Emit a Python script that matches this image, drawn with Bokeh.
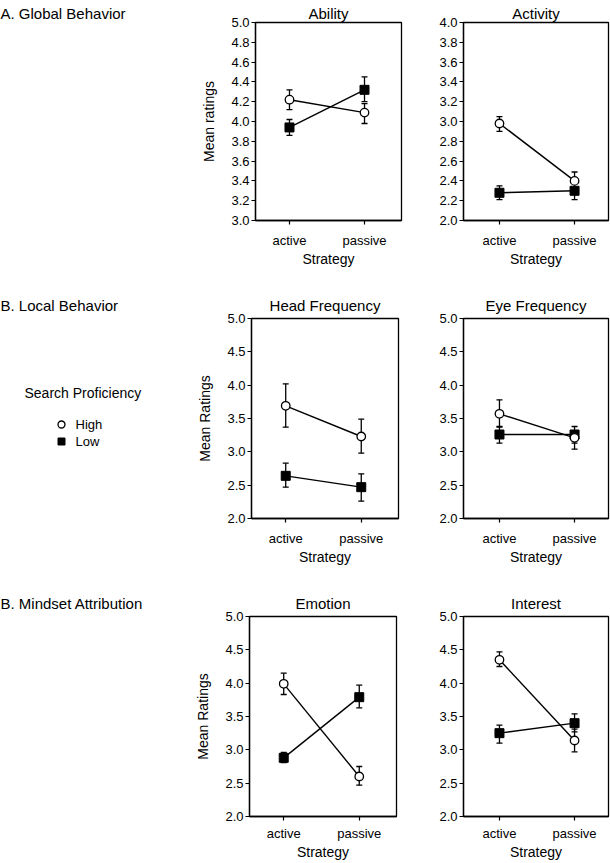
from bokeh.plotting import figure
from bokeh.layouts import column, row
from bokeh.models import (Range1d, FixedTicker, PrintfTickFormatter, Whisker,
                          ColumnDataSource, TeeHead)
from bokeh.embed import file_html
from bokeh.resources import INLINE
from bokeh.core.properties import value

FONT = "Liberation Sans"

# ---------------- data ----------------
strategy = ["active", "passive"]
strategy_x = [1, 2]

ability_high = [4.22, 4.09]
ability_high_lo = [4.12, 3.98]
ability_high_hi = [4.32, 4.18]
ability_low = [3.94, 4.32]
ability_low_lo = [3.86, 4.20]
ability_low_hi = [4.02, 4.45]

activity_high = [2.98, 2.40]
activity_high_lo = [2.90, 2.31]
activity_high_hi = [3.05, 2.49]
activity_low = [2.28, 2.30]
activity_low_lo = [2.21, 2.21]
activity_low_hi = [2.35, 2.38]

head_high = [3.69, 3.23]
head_high_lo = [3.37, 2.98]
head_high_hi = [4.02, 3.49]
head_low = [2.64, 2.47]
head_low_lo = [2.47, 2.26]
head_low_hi = [2.83, 2.67]

eye_high = [3.57, 3.21]
eye_high_lo = [3.37, 3.04]
eye_high_hi = [3.78, 3.31]
eye_low = [3.26, 3.26]
eye_low_lo = [3.13, 3.13]
eye_low_hi = [3.38, 3.38]

emotion_high = [3.99, 2.60]
emotion_high_lo = [3.83, 2.47]
emotion_high_hi = [4.15, 2.75]
emotion_low = [2.88, 3.79]
emotion_low_lo = [2.81, 3.63]
emotion_low_hi = [2.96, 3.97]

interest_high = [4.35, 3.14]
interest_high_lo = [4.25, 2.97]
interest_high_hi = [4.47, 3.31]
interest_low = [3.25, 3.40]
interest_low_lo = [3.10, 3.27]
interest_low_hi = [3.37, 3.54]

ticks_ability = [3.0, 3.2, 3.4, 3.6, 3.8, 4.0, 4.2, 4.4, 4.6, 4.8, 5.0]
ticks_activity = [2.0, 2.2, 2.4, 2.6, 2.8, 3.0, 3.2, 3.4, 3.6, 3.8, 4.0]
ticks_half = [2.0, 2.5, 3.0, 3.5, 4.0, 4.5, 5.0]

section_labels = ["A.  Global Behavior", "B.  Local Behavior", "B.  Mindset Attribution"]
legend_title = "Search Proficiency"
legend_labels = ["High", "Low"]

# ---------------- layout constants (page has no margin) ----------------
ROW_H = [280, 300, 283]
TOP_B = [22, 38, 36]
BOT_B = [60, 62, 47]
TITLE_STANDOFF = [2, 9, 9]
X_LABEL_STANDOFF = [8, 8, 5]
LEFT_W = 190
P1_W = 240
P1_BL = [65, 61, 59]
P1_FW = [146, 147, 147]
P2_W, P2_BL, P2_FW = 180, 33, 145
P1_XR = (0.547, 2.493)
P2_XR = (0.521, 2.452)
TITLE_SIZE = "15px"


def style_title(p, text, align, standoff):
    p.title.text = text
    p.title.align = align
    p.title.text_font = FONT
    p.title.text_font_size = TITLE_SIZE
    p.title.text_font_style = "normal"
    p.title.text_color = "black"
    p.title.standoff = standoff


def panel(i, title, hi, hi_lo, hi_hi, lo, lo_lo, lo_hi, ticks, ylabel,
          width, bl, br, xr):
    p = figure(width=width, height=ROW_H[i], toolbar_location=None,
               output_backend="svg",
               x_range=Range1d(*xr),
               y_range=Range1d(ticks[0], ticks[-1]))
    p.min_border_left = bl
    p.min_border_right = br
    p.min_border_top = TOP_B[i]
    p.min_border_bottom = BOT_B[i]
    p.grid.visible = False
    p.outline_line_color = "black"
    p.outline_line_width = 1.3
    p.background_fill_color = "white"
    p.border_fill_color = "white"
    style_title(p, title, "center", TITLE_STANDOFF[i])

    for ax in (p.xaxis[0], p.yaxis[0]):
        ax.axis_line_color = "black"
        ax.axis_line_width = 1.3
        ax.major_tick_line_color = "black"
        ax.major_tick_line_width = 1.2
        ax.major_tick_out = 4
        ax.major_tick_in = 0
        ax.minor_tick_line_color = None
        ax.major_label_text_font = FONT
        ax.major_label_text_font_size = "13px"
        ax.major_label_text_color = "black"
        ax.axis_label_text_font = FONT
        ax.axis_label_text_font_size = "14px"
        ax.axis_label_text_font_style = "normal"
        ax.axis_label_text_color = "black"

    p.xaxis.ticker = FixedTicker(ticks=strategy_x)
    p.xaxis.major_label_overrides = {x: s for x, s in zip(strategy_x, strategy)}
    p.xaxis.axis_label = "Strategy"
    p.xaxis.major_label_standoff = X_LABEL_STANDOFF[i]
    p.xaxis.axis_label_standoff = 0

    p.yaxis.ticker = FixedTicker(ticks=ticks)
    p.yaxis.formatter = PrintfTickFormatter(format="%.1f")
    p.yaxis.major_label_standoff = 2
    if ylabel:
        p.yaxis.axis_label = ylabel
        p.yaxis.axis_label_standoff = 11

    src_hi = ColumnDataSource(dict(x=strategy_x, y=hi, lo=hi_lo, up=hi_hi))
    src_lo = ColumnDataSource(dict(x=strategy_x, y=lo, lo=lo_lo, up=lo_hi))
    for src in (src_lo, src_hi):
        w = Whisker(source=src, base="x", lower="lo", upper="up",
                    line_color="black", line_width=1.3,
                    upper_head=TeeHead(size=6, line_color="black", line_width=1.3),
                    lower_head=TeeHead(size=6, line_color="black", line_width=1.3))
        p.add_layout(w)
    p.line("x", "y", source=src_lo, line_color="black", line_width=1.4)
    p.line("x", "y", source=src_hi, line_color="black", line_width=1.4)
    p.scatter("x", "y", source=src_lo, marker="square", size=9,
              fill_color="black", line_color="black", line_width=1)
    p.scatter("x", "y", source=src_hi, marker="circle", size=8.5,
              fill_color="white", line_color="black", line_width=1.3)
    return p


def left_panel(i, label, with_legend=False):
    h = ROW_H[i]
    # data y == pixels from the top of this figure
    p = figure(width=LEFT_W, height=h, toolbar_location=None, output_backend="svg",
               x_range=Range1d(0, LEFT_W), y_range=Range1d(h - BOT_B[i], TOP_B[i]),
               x_axis_type=None, y_axis_type=None)
    p.min_border_left = 0
    p.min_border_right = 0
    p.min_border_top = TOP_B[i]
    p.min_border_bottom = BOT_B[i]
    p.outline_line_color = None
    p.grid.visible = False
    style_title(p, label, "left", TITLE_STANDOFF[i])
    if with_legend:
        p.text(x=[24], y=[112], text=[legend_title], text_font=value(FONT),
               text_font_size="14px", text_baseline="middle", text_align="left",
               text_color="black")
        p.scatter(x=[61], y=[144], marker="circle", size=7, fill_color="white",
                  line_color="black", line_width=1.3)
        p.scatter(x=[61], y=[161], marker="square", size=7, fill_color="black",
                  line_color="black", line_width=1)
        p.text(x=[75, 75], y=[144, 161], text=legend_labels, text_font=value(FONT),
               text_font_size="13px", text_baseline="middle", text_align="left",
               text_color="black")
    return p


specs = [
    (("Ability", ability_high, ability_high_lo, ability_high_hi,
      ability_low, ability_low_lo, ability_low_hi, ticks_ability, "Mean ratings"),
     ("Activity", activity_high, activity_high_lo, activity_high_hi,
      activity_low, activity_low_lo, activity_low_hi, ticks_activity, None)),
    (("Head Frequency", head_high, head_high_lo, head_high_hi,
      head_low, head_low_lo, head_low_hi, ticks_half, "Mean Ratings"),
     ("Eye Frequency", eye_high, eye_high_lo, eye_high_hi,
      eye_low, eye_low_lo, eye_low_hi, ticks_half, None)),
    (("Emotion", emotion_high, emotion_high_lo, emotion_high_hi,
      emotion_low, emotion_low_lo, emotion_low_hi, ticks_half, "Mean Ratings"),
     ("Interest", interest_high, interest_high_lo, interest_high_hi,
      interest_low, interest_low_lo, interest_low_hi, ticks_half, None)),
]

rows = []
for i, (s1, s2) in enumerate(specs):
    lp = left_panel(i, section_labels[i], with_legend=(i == 1))
    p1 = panel(i, *s1, width=P1_W, bl=P1_BL[i], br=P1_W - P1_BL[i] - P1_FW[i],
               xr=P1_XR)
    p2 = panel(i, *s2, width=P2_W, bl=P2_BL, br=P2_W - P2_BL - P2_FW, xr=P2_XR)
    rows.append(row(lp, p1, p2, spacing=0))

layout = column(*rows, spacing=0)

open("out.html", "w").write(file_html(layout, INLINE))
